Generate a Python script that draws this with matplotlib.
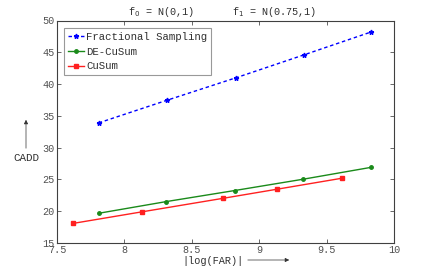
import matplotlib
matplotlib.use("Agg")
import matplotlib.pyplot as plt
from matplotlib.patches import FancyArrowPatch

fs_x = [7.81, 8.318, 8.829, 9.33, 9.827]
fs_y = [33.9, 37.47, 41.0, 44.58, 48.17]
de_x = [7.808, 8.312, 8.817, 9.328, 9.827]
de_y = [19.67, 21.52, 23.25, 25.04, 26.89]
cu_x = [7.621, 8.127, 8.735, 9.135, 9.617]
cu_y = [18.09, 19.89, 22.04, 23.47, 25.2]
xticks = [7.5, 8, 8.5, 9, 9.5, 10]
yticks = [15, 20, 25, 30, 35, 40, 45, 50]

plt.rcParams['font.family'] = ['Liberation Mono', 'DejaVu Sans Mono']
fig = plt.figure(figsize=(4.36, 2.73), dpi=100)
ax = fig.add_axes([57/436, 1-243/273, (394-57)/436, (243-20.5)/273])

ax.plot(fs_x, fs_y, color='#0000ff', linestyle=(0, (2.5, 2)), marker='*', markersize=3.5, linewidth=1, label='Fractional Sampling')
ax.plot(de_x, de_y, color='#1a8a1a', linestyle='-', marker='o', markersize=2.5, linewidth=1, label='DE-CuSum')
ax.plot(cu_x, cu_y, color='#ff2020', linestyle='-', marker='s', markersize=2.5, linewidth=1, label='CuSum')

ax.set_xlim(7.5, 10)
ax.set_ylim(15, 50)
ax.set_xticks(xticks)
ax.set_xticklabels(['7.5', '8', '8.5', '9', '9.5', '10'])
ax.set_yticks(yticks)
ax.set_yticklabels([str(v) for v in yticks])
ax.tick_params(direction='in', top=True, right=True, labelsize=7.3, colors='#505050', length=3, width=0.6, pad=1.5)
for s in ax.spines.values():
    s.set_color('#404040')
    s.set_linewidth(0.8)

leg = ax.legend(loc='upper left', fontsize=7.7, frameon=True, fancybox=False,
                handlelength=1.5, handletextpad=0.2, borderpad=0.35, labelspacing=0.45,
                borderaxespad=0.7, edgecolor='#808080')
leg.get_frame().set_linewidth(0.8)
for t in leg.get_texts():
    t.set_color('#303030')

fig.text(128/436, 1-12/273, r'f$_0$ = N(0,1)', ha='left', va='center', fontsize=7.3, color='#303030')
fig.text(232/436, 1-12/273, r'f$_1$ = N(0.75,1)', ha='left', va='center', fontsize=7.3, color='#303030')

# y label with arrow
fig.text(26/436, 1-158/273, 'CADD', ha='center', va='center', fontsize=7.8, color='#303030')
fig.add_artist(FancyArrowPatch((26/436, 1-151/273), (26/436, 1-117/273),
               transform=fig.transFigure, arrowstyle='-|>', mutation_scale=6, color='#303030', linewidth=0.5))
# x label with arrow
fig.text(182/436, 1-261/273, '|log(FAR)|', ha='left', va='center', fontsize=7.4, color='#303030')
fig.add_artist(FancyArrowPatch((245/436, 1-260/273), (292/436, 1-260/273),
               transform=fig.transFigure, arrowstyle='-|>', mutation_scale=6, color='#303030', linewidth=0.5))

fig.savefig('out.png', dpi=100)
